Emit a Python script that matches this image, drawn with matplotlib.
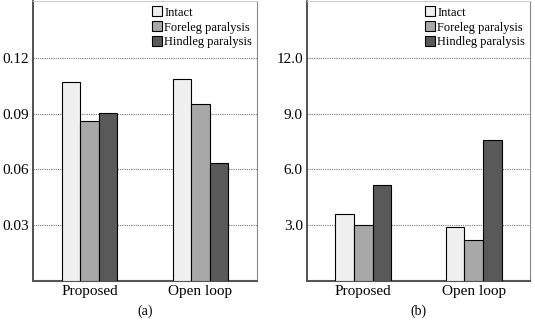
import matplotlib
matplotlib.use("Agg")
import matplotlib.pyplot as plt
import numpy as np

plt.rcParams['font.family'] = ['Liberation Serif', 'DejaVu Serif']

categories = ["Proposed", "Open loop"]
series_names = ["Intact", "Foreleg paralysis", "Hindleg paralysis"]
values_a = {
    "Intact": [0.107, 0.1087],
    "Foreleg paralysis": [0.0862, 0.0954],
    "Hindleg paralysis": [0.0905, 0.0632],
}
values_b = {
    "Intact": [3.59, 2.89],
    "Foreleg paralysis": [3.0, 2.2],
    "Hindleg paralysis": [5.14, 7.6],
}
ticks_a = [0.03, 0.06, 0.09, 0.12]
ticklabels_a = ["0.03", "0.06", "0.09", "0.12"]
ticks_b = [3.0, 6.0, 9.0, 12.0]
ticklabels_b = ["3.0", "6.0", "9.0", "12.0"]
colors = ["#f0f0f0", "#a8a8a8", "#595959"]

fig = plt.figure(figsize=(5.35, 3.23), dpi=100)
W, H = 535, 323
ax_a = fig.add_axes([33 / W, 1 - 281 / H, 224 / W, 280 / H])
ax_b = fig.add_axes([307 / W, 1 - 281 / H, 223 / W, 280 / H])

def draw(ax, vals, ticks, ticklabels, ymax, caption):
    x = np.arange(len(categories))
    bw = 0.168
    for i, name in enumerate(series_names):
        ax.bar(x + (i - 1) * bw, vals[name], width=bw, color=colors[i],
               edgecolor="black", linewidth=0.8, label=name, zorder=3)
    ax.set_xlim(-0.51, 1.51)
    ax.set_ylim(0, ymax)
    ax.set_yticks(ticks)
    ax.set_yticklabels(ticklabels, fontsize=11)
    ax.set_xticks(x)
    ax.set_xticklabels(categories, fontsize=11)
    ax.tick_params(axis="both", length=0, pad=3)
    ax.yaxis.grid(True, linestyle=(0, (1, 1)), color="#777777", linewidth=0.8, zorder=0)
    ax.set_axisbelow(True)
    ax.spines["left"].set_color("#333333")
    ax.spines["left"].set_linewidth(1.2)
    ax.spines["bottom"].set_color("#555555")
    ax.spines["bottom"].set_linewidth(1.5)
    ax.spines["right"].set_color("#888888")
    ax.spines["right"].set_linewidth(0.8)
    ax.spines["top"].set_color("#cccccc")
    ax.spines["top"].set_linewidth(0.8)
    ax.legend(loc="upper right", frameon=False, fontsize=9,
              handlelength=0.85, handleheight=0.9, handletextpad=0.15,
              labelspacing=0.2, borderaxespad=0.1, borderpad=0.3)
    ax.text(0.5, -0.085, caption, transform=ax.transAxes, ha="center",
            va="top", fontsize=10)

draw(ax_a, values_a, ticks_a, ticklabels_a, 0.1505, "(a)")
draw(ax_b, values_b, ticks_b, ticklabels_b, 15.05, "(b)")

fig.savefig("out.png", dpi=100)
